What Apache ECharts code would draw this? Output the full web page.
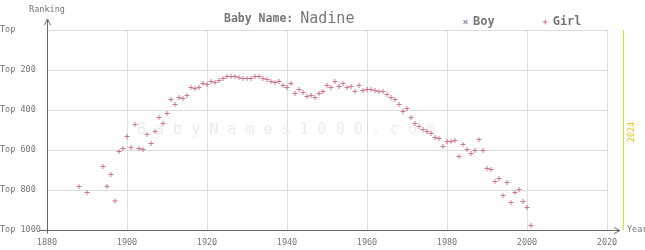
<!DOCTYPE html>
<html>
<head>
<meta charset="utf-8">
<script src="https://cdn.jsdelivr.net/npm/echarts@6/dist/echarts.min.js"></script>
<style>
  html, body { margin: 0; padding: 0; background: #fff; }
  #chart { width: 645px; height: 250px; }
</style>
</head>
<body>
<div id="chart"></div>
<script>
// years and ranks
var girlYears = [1888, 1890, 1894, 1895, 1896, 1897, 1898, 1899, 1900, 1901, 1902, 1903, 1904, 1905, 1906, 1907, 1908, 1909, 1910,
  1911, 1912, 1913, 1914, 1915, 1916, 1917, 1918, 1919, 1920, 1921, 1922, 1923, 1924, 1925, 1926, 1927, 1928, 1929, 1930,
  1931, 1932, 1933, 1934, 1935, 1936, 1937, 1938, 1939, 1940, 1941, 1942, 1943, 1944, 1945, 1946, 1947, 1948, 1949, 1950,
  1951, 1952, 1953, 1954, 1955, 1956, 1957, 1958, 1959, 1960, 1961, 1962, 1963, 1964, 1965, 1966, 1967, 1968, 1969, 1970,
  1971, 1972, 1973, 1974, 1975, 1976, 1977, 1978, 1979, 1980, 1981, 1982, 1983, 1984, 1985, 1986, 1987, 1988, 1989, 1990,
  1991, 1992, 1993, 1994, 1995, 1996, 1997, 1998, 1999, 2000, 2001];
var girlRanks = [782, 812, 682, 782, 722, 855, 607, 592, 532, 587, 472, 592, 597, 522, 567, 507, 437, 467, 417,
  347, 372, 337, 342, 327, 287, 292, 287, 267, 272, 257, 262, 252, 242, 232, 232, 232, 237, 242, 242,
  242, 232, 232, 242, 247, 257, 262, 257, 277, 287, 267, 317, 297, 312, 332, 327, 337, 317, 307, 277,
  287, 257, 282, 267, 287, 282, 307, 277, 302, 297, 297, 302, 307, 307, 322, 337, 347, 372, 407, 392,
  437, 467, 482, 497, 507, 517, 537, 542, 582, 557, 557, 552, 632, 572, 597, 617, 602, 547, 602, 692,
  697, 757, 742, 827, 762, 862, 812, 797, 857, 887, 977];
var boyYears = [];
var boyRanks = [];

var yearTicks = [1880, 1900, 1920, 1940, 1960, 1980, 2000, 2020];
var rankTicks = [0, 200, 400, 600, 800, 1000];
var currentYear = 2024;

var mono = 'DejaVu Sans Mono';
var textGrey = '#777';
var axisGrey = '#666';
var plusPath = 'path://M2,0H3V2H5V3H3V5H2V3H0V2H2Z';
var crossPath = 'path://M0,1L1,0L2.5,1.5L4,0L5,1L3.5,2.5L5,4L4,5L2.5,3.5L1,5L0,4L1.5,2.5Z';

function pairs(xs, ys) {
  var out = [];
  for (var i = 0; i < xs.length; i++) out.push([xs[i], ys[i]]);
  return out;
}

var chart = echarts.init(document.getElementById('chart'));

var option = {
  animation: false,
  title: {
    text: '{a|Baby Name:}{b|Nadine}',
    left: 219,
    top: 7,
    textStyle: {
      rich: {
        a: { fontFamily: mono, fontSize: 11.5, fontWeight: 'bold', color: textGrey },
        b: { fontFamily: mono, fontSize: 15, fontWeight: 'normal', color: textGrey, padding: [0, 0, 0, 7] }
      }
    }
  },
  legend: {
    data: [
      { name: 'Boy', icon: crossPath },
      { name: 'Girl', icon: plusPath }
    ],
    left: 458,
    top: 11,
    itemWidth: 5,
    itemHeight: 5,
    itemGap: 48,
    textStyle: { fontFamily: mono, fontSize: 12, fontWeight: 'bold', color: textGrey }
  },
  grid: { left: 47, right: 38, top: 30, bottom: 20, containLabel: false, outerBoundsMode: 'none' },
  xAxis: {
    type: 'value',
    min: yearTicks[0],
    max: yearTicks[yearTicks.length - 1],
    interval: 20,
    name: 'Year',
    nameLocation: 'end',
    nameGap: 20,
    nameTextStyle: { fontFamily: mono, fontSize: 8.5, color: textGrey },
    axisLine: { onZero: false, lineStyle: { color: axisGrey } },
    axisTick: { show: false },
    axisLabel: {
      fontFamily: mono, fontSize: 8.5, color: textGrey, margin: 8,
      formatter: function (v) { return String(v); }
    },
    splitLine: { lineStyle: { color: '#ddd' } }
  },
  yAxis: {
    type: 'value',
    inverse: true,
    min: rankTicks[0],
    max: rankTicks[rankTicks.length - 1],
    interval: 200,
    name: 'Ranking',
    nameLocation: 'start',
    nameGap: 16,
    nameTextStyle: { fontFamily: mono, fontSize: 8.5, color: textGrey },
    axisLine: { show: true, onZero: false, lineStyle: { color: axisGrey } },
    axisTick: { show: false },
    axisLabel: {
      fontFamily: mono, fontSize: 8.5, color: textGrey,
      align: 'left', margin: 47,
      formatter: function (v) { return v === 0 ? 'Top' : 'Top ' + v; }
    },
    splitLine: { lineStyle: { color: '#ddd' } }
  },
  series: [
    {
      name: 'Boy',
      type: 'scatter',
      symbol: crossPath,
      symbolSize: 5,
      itemStyle: { color: '#7a86a8' },
      data: pairs(boyYears, boyRanks)
    },
    {
      name: 'Girl',
      type: 'scatter',
      symbol: plusPath,
      symbolSize: 5,
      itemStyle: { color: '#c2527c' },
      data: pairs(girlYears, girlRanks),
      z: 3
    }
  ]
};
chart.setOption(option);

// decorations: watermark, axis arrows, current-year line
var x0 = chart.convertToPixel({ xAxisIndex: 0 }, yearTicks[0]);
var x1 = chart.convertToPixel({ xAxisIndex: 0 }, yearTicks[yearTicks.length - 1]);
var xNow = Math.round(chart.convertToPixel({ xAxisIndex: 0 }, currentYear)) + 0.5;
var yTop = chart.convertToPixel({ yAxisIndex: 0 }, rankTicks[0]);
var yBot = chart.convertToPixel({ yAxisIndex: 0 }, rankTicks[rankTicks.length - 1]);
var ax = Math.round(x0) + 0.5;
var ay = Math.round(yBot) + 0.5;

chart.setOption({
  graphic: [
    {
      type: 'text', z: 0, silent: true,
      left: 137, top: 123,
      style: { text: 'B a b y N a m e s 1 0 0 0 . c o m', font: '15px "DejaVu Sans Mono"', fill: '#ececec' }
    },
    {
      type: 'line', z: 1, silent: true,
      shape: { x1: xNow, y1: yTop, x2: xNow, y2: yBot },
      style: { stroke: '#f2d21b', lineWidth: 1 }
    },
    {
      type: 'text', z: 1, silent: true,
      x: xNow + 8, y: (yTop + yBot) / 2 + 2, rotation: Math.PI / 2,
      style: { text: String(currentYear), font: '8.5px "DejaVu Sans Mono"', fill: '#e8c820', align: 'center', verticalAlign: 'middle' }
    },
    {
      type: 'polyline', z: 5, silent: true,
      shape: { points: [[ax, yTop], [ax, yTop - 11]] },
      style: { stroke: axisGrey, fill: null, lineWidth: 1 }
    },
    {
      type: 'polyline', z: 5, silent: true,
      shape: { points: [[ax - 3, yTop - 5], [ax, yTop - 11], [ax + 3, yTop - 5]] },
      style: { stroke: axisGrey, fill: null, lineWidth: 1 }
    },
    {
      type: 'polyline', z: 5, silent: true,
      shape: { points: [[x1, ay], [x1 + 13, ay]] },
      style: { stroke: axisGrey, fill: null, lineWidth: 1 }
    },
    {
      type: 'polyline', z: 5, silent: true,
      shape: { points: [[x1 + 7, ay - 3], [x1 + 13, ay], [x1 + 7, ay + 3]] },
      style: { stroke: axisGrey, fill: null, lineWidth: 1 }
    },
    {
      type: 'polyline', z: 5, silent: true,
      shape: { points: [[ax - 8, ay], [ax, ay], [ax, ay + 3]] },
      style: { stroke: axisGrey, fill: null, lineWidth: 1 }
    }
  ]
});
</script>
</body>
</html>
